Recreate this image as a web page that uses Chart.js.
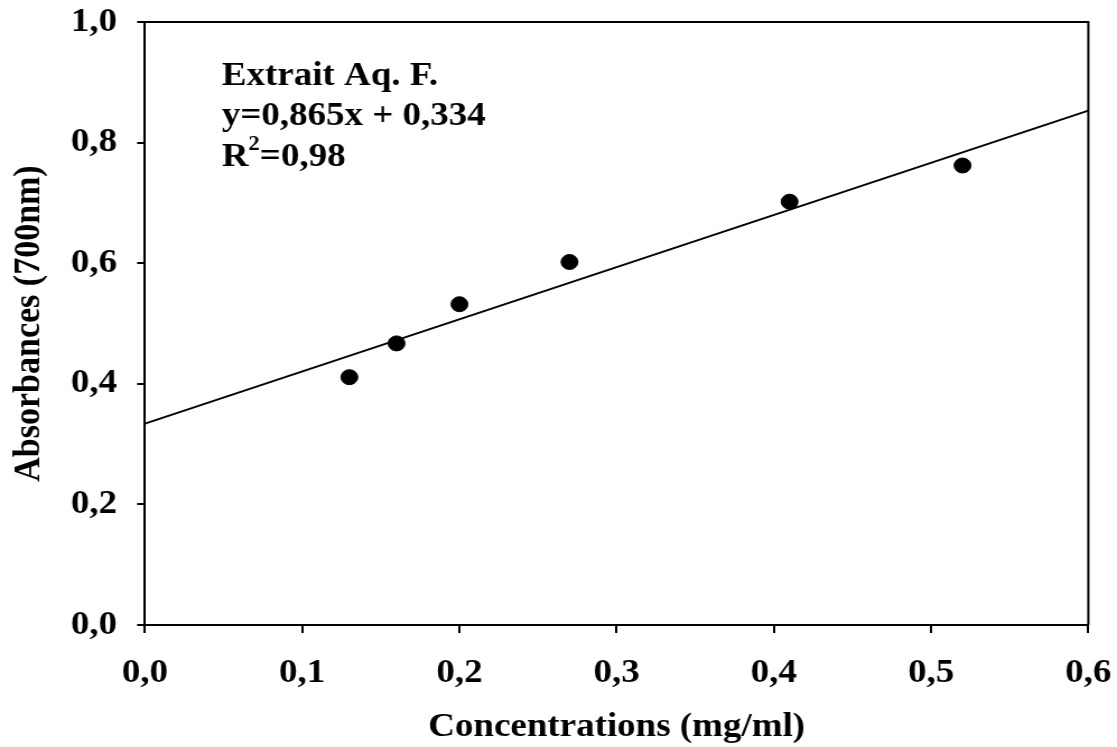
<!DOCTYPE html>
<html>
<head>
<meta charset="utf-8">
<title>Absorbances</title>
<script src="https://cdn.jsdelivr.net/npm/chart.js@4/dist/chart.umd.min.js"></script>
<style>
	html, body { margin: 0; padding: 0; background: #fff; }
	/* the drawing is a little wider than its bitmap, like the original figure */
	#myChart { display: block; width: 1117px; height: 747px; }
</style>
</head>
<body>
<canvas id="myChart" width="997" height="747" style="width:1117px;height:747px"></canvas>
<script>
	// concentrations (mg/ml) and absorbances at 700nm
	var concentrations = [0.13, 0.16, 0.20, 0.27, 0.41, 0.52];
	var absorbances = [0.411, 0.467, 0.532, 0.602, 0.702, 0.762];

	// linear fit shown in the text box
	var slope = 0.865;
	var intercept = 0.334;
	var fitRange = [0, 0.6];

	var xTicks = [0, 0.1, 0.2, 0.3, 0.4, 0.5, 0.6];
	var yTicks = [0, 0.2, 0.4, 0.6, 0.8, 1.0];

	var labelLines = ['Extrait Aq. F.', 'y=0,865x + 0,334', 'R', '=0,98'];

!(function(){
	'use strict';

	var serif = "'Liberation Serif', 'Times New Roman', serif";

	function comma(v, digits){
		return v.toFixed(digits).replace('.', ',');
	}

	var points = concentrations.map(function(c, i){
		return { x: c, y: absorbances[i] };
	});
	var fit = fitRange.map(function(x){
		return { x: x, y: slope * x + intercept };
	});

	// top and right sides of the box
	var frame = {
		id: 'frame',
		afterDatasetsDraw: function(chart){
			var a = chart.chartArea, ctx = chart.ctx;
			ctx.save();
			ctx.strokeStyle = '#000';
			ctx.lineWidth = 2;
			ctx.beginPath();
			ctx.moveTo(a.left, a.top);
			ctx.lineTo(a.right, a.top);
			ctx.lineTo(a.right, a.bottom);
			ctx.stroke();
			ctx.restore();
		}
	};

	// equation text in the upper left corner
	var equation = {
		id: 'equation',
		afterDraw: function(chart){
			var ctx = chart.ctx;
			var x = 198;
			ctx.save();
			ctx.fillStyle = '#000';
			ctx.textBaseline = 'alphabetic';
			ctx.textAlign = 'left';
			ctx.font = 'bold 33px ' + serif;
			ctx.fillText(labelLines[0], x, 85);
			ctx.fillText(labelLines[1], x, 125);
			ctx.fillText(labelLines[2], x, 166);
			var w = ctx.measureText(labelLines[2]).width;
			ctx.font = 'bold 20px ' + serif;
			ctx.fillText('2', x + w, 150);
			var w2 = ctx.measureText('2').width;
			ctx.font = 'bold 33px ' + serif;
			ctx.fillText(labelLines[3], x + w + w2, 166);
			ctx.restore();
		}
	};

	var ctx = document.getElementById('myChart').getContext('2d');
	var myChart = new Chart(ctx, {
		"type": "scatter",
		"data": {
			"datasets": [{
				"label": "Absorbance",
				"data": points,
				"backgroundColor": "#000",
				"borderColor": "#000",
				"pointRadius": 7.5,
				"pointHoverRadius": 7.5
			}, {
				"label": "Fit",
				"type": "line",
				"data": fit,
				"borderColor": "#000",
				"borderWidth": 2,
				"pointRadius": 0,
				"fill": false,
				"tension": 0
			}]
		},
		"options": {
			"responsive": false,
			"animation": false,
			"events": [],
			"layout": { "padding": { "top": 22, "right": 25.6, "left": 0, "bottom": 0 } },
			"plugins": {
				"legend": { "display": false },
				"tooltip": { "enabled": false }
			},
			"scales": {
				"x": {
					"type": "linear",
					"min": 0,
					"max": 0.6,
					"afterBuildTicks": function(scale){
						scale.ticks = xTicks.map(function(v){ return { value: v }; });
					},
					"afterFit": function(scale){
						scale.height = 122;
						scale.paddingLeft = 0;
						scale.paddingRight = 0;
					},
					"ticks": {
						"color": "#000",
						"padding": 21,
						"maxRotation": 0,
						"font": { "family": serif, "size": 33, "weight": "bold" },
						"callback": function(v){ return comma(v, 1); }
					},
					"grid": {
						"drawOnChartArea": false,
						"color": "#000",
						"lineWidth": 2,
						"tickLength": 8
					},
					"border": { "color": "#000", "width": 2 },
					"title": {
						"display": true,
						"text": "Concentrations (mg/ml)",
						"color": "#000",
						"padding": { "top": 0, "bottom": 0 },
						"font": { "family": serif, "size": 33, "weight": "bold" }
					}
				},
				"y": {
					"type": "linear",
					"min": 0,
					"max": 1,
					"afterBuildTicks": function(scale){
						scale.ticks = yTicks.map(function(v){ return { value: v }; });
					},
					"afterFit": function(scale){
						scale.width = 129.4;
						scale.paddingTop = 0;
						scale.paddingBottom = 0;
					},
					"ticks": {
						"color": "#000",
						"padding": 18,
						"font": { "family": serif, "size": 33, "weight": "bold" },
						"callback": function(v){ return comma(v, 1); }
					},
					"grid": {
						"drawOnChartArea": false,
						"color": "#000",
						"lineWidth": 2,
						"tickLength": 7
					},
					"border": { "color": "#000", "width": 2 },
					"title": {
						"display": true,
						"text": "Absorbances (700nm)",
						"color": "#000",
						"padding": { "top": 6, "bottom": 0 },
						"font": { "family": serif, "size": 34, "weight": "bold" }
					}
				}
			}
		},
		"plugins": [frame, equation]
	});
})();
</script>
</body>
</html>
